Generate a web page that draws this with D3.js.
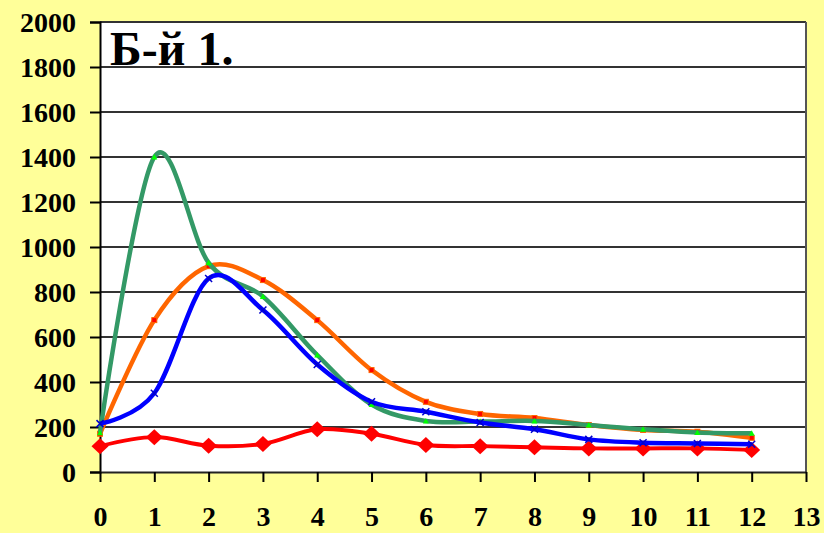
<!DOCTYPE html>
<html>
<head>
<meta charset="utf-8">
<script src="https://cdn.jsdelivr.net/npm/d3@7"></script>
<style>
  html, body { margin: 0; padding: 0; background: #FFFF99; }
  svg { display: block; }
  text { font-family: "Liberation Serif", "Times New Roman", serif; font-weight: bold; fill: #000; }
</style>
</head>
<body>
<svg id="chart" width="824" height="533"></svg>
<script>
// Day index along the horizontal axis
const days = [0, 1, 2, 3, 4, 5, 6, 7, 8, 9, 10, 11, 12];

// Series values
const redSeries    = [115, 155, 117, 125, 190, 170, 120, 115, 110, 105, 105, 105, 98];
const orangeSeries = [170, 675, 915, 853, 675, 453, 312, 258, 240, 209, 187, 179, 152];
const greenSeries  = [175, 1400, 930, 780, 520, 300, 227, 224, 227, 209, 190, 176, 172];
const blueSeries   = [215, 350, 860, 720, 478, 312, 268, 220, 190, 145, 130, 127, 123];

// Tick labels
const yTicks = [0, 200, 400, 600, 800, 1000, 1200, 1400, 1600, 1800, 2000];
const xTicks = [0, 1, 2, 3, 4, 5, 6, 7, 8, 9, 10, 11, 12, 13];
const titleText = "Б-й 1.";

const svg = d3.select("#chart");
const plot = { left: 100, top: 22, right: 806, bottom: 472 };

const x = d3.scaleLinear().domain([0, 13]).range([plot.left, plot.right]);
const y = d3.scaleLinear().domain([0, 2000]).range([plot.bottom, plot.top]);

// Plot area
svg.append("rect")
  .attr("x", plot.left).attr("y", plot.top)
  .attr("width", plot.right - plot.left).attr("height", plot.bottom - plot.top)
  .attr("fill", "#fff");

// Horizontal gridlines
svg.append("g").selectAll("line")
  .data(yTicks.filter(d => d > 0))
  .join("line")
  .attr("x1", plot.left).attr("x2", plot.right)
  .attr("y1", d => y(d)).attr("y2", d => y(d))
  .attr("stroke", "#333").attr("stroke-width", 2);

// Right border
svg.append("line")
  .attr("x1", plot.right).attr("x2", plot.right)
  .attr("y1", plot.top).attr("y2", plot.bottom)
  .attr("stroke", "#555").attr("stroke-width", 2);

// Y axis
const yAxis = svg.append("g")
  .attr("transform", `translate(${plot.left},0)`)
  .call(d3.axisLeft(y).tickValues(yTicks).tickSize(10).tickPadding(14).tickFormat(d3.format("d")));
yAxis.select(".domain").attr("stroke", "#000").attr("stroke-width", 2);
yAxis.selectAll(".tick line").attr("stroke", "#000").attr("stroke-width", 2);
yAxis.selectAll(".tick text")
  .attr("font-size", 28).attr("font-family", "Liberation Serif").attr("font-weight", "bold")
  .attr("fill", "#000").attr("dy", "0.33em");

// X axis
const xAxis = svg.append("g")
  .attr("transform", `translate(0,${plot.bottom})`)
  .call(d3.axisBottom(x).tickValues(xTicks).tickSize(10).tickPadding(24).tickSizeOuter(0).tickFormat(d3.format("d")));
xAxis.select(".domain").attr("stroke", "#222").attr("stroke-width", 2);
xAxis.selectAll(".tick line").attr("stroke", "#000").attr("stroke-width", 2);
xAxis.selectAll(".tick text")
  .attr("font-size", 28).attr("font-family", "Liberation Serif").attr("font-weight", "bold")
  .attr("fill", "#000");

// Smoothed series lines
const line = d3.line()
  .x((d, i) => x(days[i]))
  .y(d => y(d))
  .curve(d3.curveCatmullRom.alpha(0));

const series = [
  { values: redSeries,    color: "#FF0000", marker: "diamond", width: 4 },
  { values: orangeSeries, color: "#FF6600", marker: "square",  width: 4.5 },
  { values: greenSeries,  color: "#339966", marker: "triangle", width: 4.5 },
  { values: blueSeries,   color: "#0000FF", marker: "cross",   width: 4.5 }
];

series.forEach(s => {
  const g = svg.append("g");
  g.append("path")
    .attr("d", line(s.values))
    .attr("fill", "none")
    .attr("stroke", s.color)
    .attr("stroke-width", s.width)
    .attr("stroke-linejoin", "round");

  const pts = g.selectAll("g.pt").data(s.values).join("g")
    .attr("transform", (d, i) => `translate(${x(days[i])},${y(d)})`);

  if (s.marker === "diamond") {
    pts.append("path").attr("d", "M0,-8L8.5,0L0,8L-8.5,0Z").attr("fill", "#FF0000");
  } else if (s.marker === "square") {
    pts.append("rect").attr("x", -2.5).attr("y", -2.5).attr("width", 5).attr("height", 5)
      .attr("fill", "#FF0000").attr("stroke", "#FF6600").attr("stroke-width", 1);
  } else if (s.marker === "triangle") {
    pts.append("path").attr("d", "M0,-3L3,2.5L-3,2.5Z").attr("fill", "#00FF00");
  } else if (s.marker === "cross") {
    pts.append("path").attr("d", "M-3.5,-3.5L3.5,3.5M-3.5,3.5L3.5,-3.5")
      .attr("stroke", "#0000CC").attr("stroke-width", 1.5);
  }
});

// Panel title
svg.append("text")
  .attr("x", 110).attr("y", 65)
  .attr("font-size", 48)
  .text(titleText);
</script>
</body>
</html>
